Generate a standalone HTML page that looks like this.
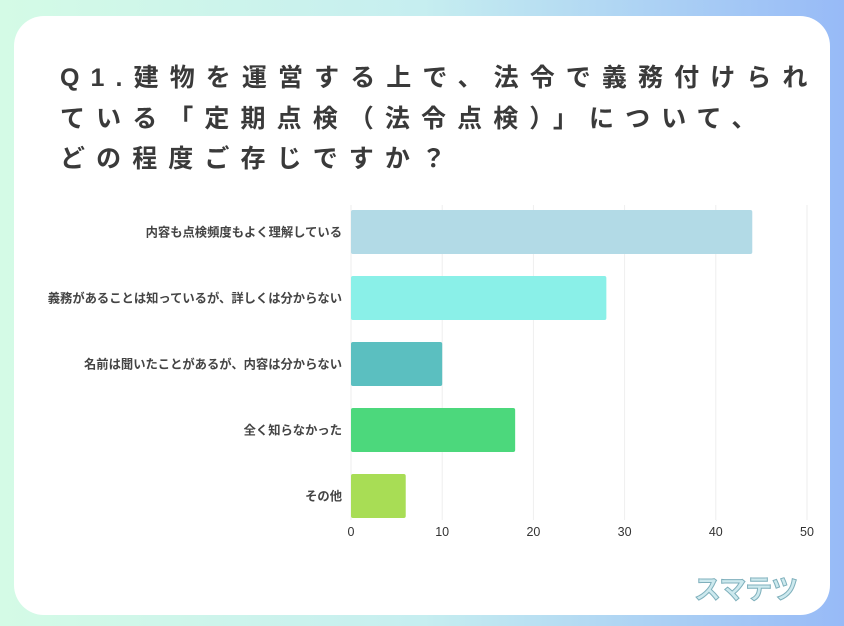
<!DOCTYPE html>
<html><head><meta charset="utf-8"><style>
body{margin:0;width:844px;height:626px;overflow:hidden;background:linear-gradient(90deg,#d4fbe6 0%,#c6eef0 50%,#97baf7 100%);font-family:"Liberation Sans","Noto Sans CJK JP",sans-serif;}
#card{position:absolute;left:14px;top:16px;width:816px;height:599px;background:#fff;border-radius:30px;}
#title{position:absolute;left:60px;top:58px;font-size:25px;line-height:40.5px;letter-spacing:11.1px;color:#3a3a3a;font-weight:bold;white-space:nowrap;}
svg{position:absolute;left:0;top:0}
</style></head><body>
<div id="card"></div>
<div id="title">Q1.建物を運営する上で、法令で義務付けられ<br>ている「定期点検（法令点検）」について、<br>どの程度ご存じですか？</div>
<svg id="chart" width="844" height="626"></svg>
<div style="position:absolute;left:694px;top:568px;font-size:27px;font-weight:bold;color:#cde9ee;-webkit-text-stroke:1px #7fb0bc;letter-spacing:-1px">スマテツ</div>
<script>
const categories=["内容も点検頻度もよく理解している","義務があることは知っているが、詳しくは分からない","名前は聞いたことがあるが、内容は分からない","全く知らなかった","その他"];
const values=[44,28,10,18,6];
const colors=["#b2dae6","#8af0e8","#5bbfc0","#4cd87c","#a8dd55"];
const ticks=[0,10,20,30,40,50];
const svg=document.getElementById('chart');const NS='http://www.w3.org/2000/svg';
const x0=351,x1=807,maxV=50,top0=210,step=66,bh=44;
const xs=v=>x0+(x1-x0)*v/maxV;
function mk(t,a){const e=document.createElementNS(NS,t);for(const k in a)e.setAttribute(k,a[k]);svg.appendChild(e);return e;}
ticks.forEach(t=>{
 const l=mk('line',{x1:xs(t),x2:xs(t),y1:205,y2:520,stroke:'#eeeeee','stroke-width':1});
 
 
 const tx=mk('text',{x:xs(t),y:536,'text-anchor':'middle','font-size':12.5,fill:'#333','font-family':'Liberation Sans, sans-serif'});
 tx.textContent=t;
 
 
});
categories.forEach((c,i)=>{
 const y=top0+i*step;
 const r=mk('rect',{x:x0,y:y,width:xs(values[i])-x0,height:bh,fill:colors[i],rx:2});
 
 
 const tx=mk('text',{x:342,y:y+bh/2+4.5,'text-anchor':'end','font-size':12.3,'font-weight':'bold',fill:'#444','font-family':'Liberation Sans, Noto Sans CJK JP, sans-serif'});
 tx.textContent=c;
 
 
});
</script>
</body></html>
